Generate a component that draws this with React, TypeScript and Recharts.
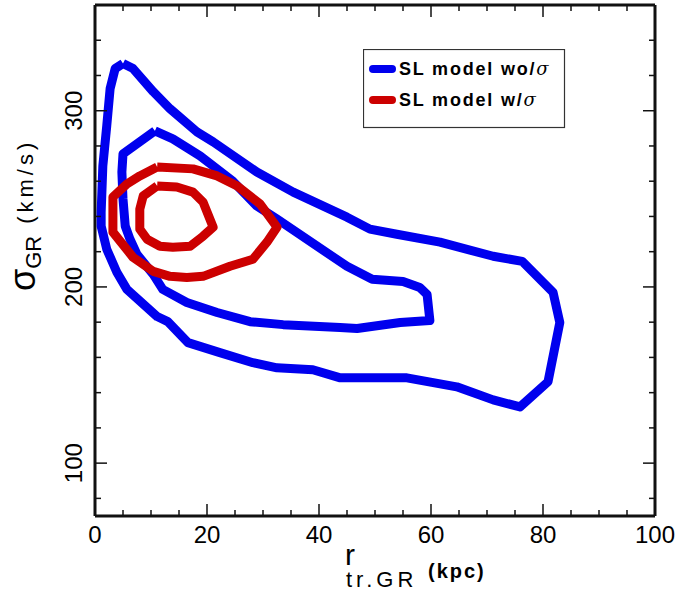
import React from 'react';
import { ScatterChart, Scatter, XAxis, YAxis, Legend } from 'recharts';

// Contour: SL model wo/sigma (outer, 95%)
const WO_OUTER_R = [5.0, 6.8, 10.4, 13.4, 18.2, 21.1, 28.9, 35.4, 45.0, 49.1, 53.9, 61.6, 71.1, 76.3, 81.8, 83.0, 80.9, 75.9, 71.1, 64.6, 55.7, 43.8, 38.9, 32.5, 28.2, 22.3, 16.6, 13.0, 11.1, 5.7, 3.9, 2.1, 1.1, 1.1, 1.4, 2.1, 2.7, 3.6, 5.0];
const WO_OUTER_S = [326.8, 323.9, 310.8, 301.1, 288.0, 282.3, 265.2, 253.8, 239.6, 232.8, 229.9, 225.4, 217.4, 214.5, 196.9, 179.8, 146.2, 131.9, 135.9, 143.3, 148.4, 148.4, 153.0, 154.1, 157.0, 162.7, 168.4, 180.3, 183.2, 198.6, 208.3, 221.4, 234.5, 242.5, 268.7, 291.5, 312.5, 323.9, 326.8];
// Contour: SL model wo/sigma (inner, 68%)
const WO_INNER_R = [10.7, 13.9, 18.75, 24.6, 28.9, 32.5, 45.0, 49.5, 55.0, 58.0, 59.3, 59.8, 54.5, 46.8, 43.75, 33.6, 27.7, 21.8, 16.4, 12.1, 10.4, 7.5, 6.25, 5.4, 5.0, 4.8, 5.0, 10.7];
const WO_INNER_S = [288.6, 284.0, 274.4, 260.1, 245.9, 238.5, 211.7, 204.3, 203.1, 199.7, 195.7, 180.9, 179.8, 176.4, 177.0, 178.6, 180.3, 185.5, 191.2, 198.6, 207.1, 218.5, 227.1, 234.5, 249.9, 265.2, 275.5, 288.6];
// Contour: SL model w/sigma (outer)
const W_OUTER_R = [11.1, 17.5, 21.8, 25.4, 29.5, 32.5, 30.7, 28.2, 24.1, 19.3, 16.4, 13.4, 10.4, 6.8, 3.2, 3.2, 5.7, 8.0, 11.1];
const W_OUTER_S = [268.1, 267.0, 263.0, 257.3, 247.0, 233.9, 225.4, 215.7, 211.7, 206.0, 205.4, 206.0, 208.8, 216.8, 231.1, 251.0, 258.4, 263.0, 268.1];
// Contour: SL model w/sigma (inner)
const W_INNER_R = [11.1, 14.6, 17.5, 19.3, 21.1, 19.3, 17.0, 13.9, 11.6, 9.3, 8.0, 8.0, 8.6, 11.1];
const W_INNER_S = [257.3, 256.7, 253.8, 248.1, 233.9, 228.8, 223.1, 222.5, 223.1, 227.1, 232.8, 244.2, 251.6, 257.3];

const X_TICKS = [0, 5, 10, 15, 20, 25, 30, 35, 40, 45, 50, 55, 60, 65, 70, 75, 80, 85, 90, 95, 100];
const X_MAJOR = [0, 20, 40, 60, 80, 100];
const Y_TICKS = [80, 100, 120, 140, 160, 180, 200, 220, 240, 260, 280, 300, 320, 340];
const Y_MAJOR = [100, 200, 300];
const LEGEND_LABELS = ['SL model wo/', 'SL model w/'];

const BLUE = '#0000ee';
const RED = '#cc0000';
const LEGEND_COLORS = [BLUE, RED];
const AXIS = '#111';
const FONT = '"Liberation Sans", Arial, Helvetica, sans-serif';

const zip = (xs: number[], ys: number[]) => xs.map((x, i) => ({ x, y: ys[i] }));
const woOuter = zip(WO_OUTER_R, WO_OUTER_S);
const woInner = zip(WO_INNER_R, WO_INNER_S);
const wOuter = zip(W_OUTER_R, W_OUTER_S);
const wInner = zip(W_INNER_R, W_INNER_S);

const NoShape = () => <g />;

const renderBottomTick = (p: any) => {
  const major = X_MAJOR.includes(p.payload.value);
  return (
    <g transform={`translate(${p.x}, ${p.y})`}>
      <line x1={0} y1={0} x2={0} y2={major ? -12 : -6} stroke={AXIS} strokeWidth={1.5} />
      {major && (
        <text x={0} y={27} textAnchor="middle" fontSize={24} fontFamily={FONT} fill="#000">
          {String(p.payload.value)}
        </text>
      )}
    </g>
  );
};
const renderTopTick = (p: any) => {
  const major = X_MAJOR.includes(p.payload.value);
  return (
    <g transform={`translate(${p.x}, ${p.y})`}>
      <line x1={0} y1={0} x2={0} y2={major ? 12 : 6} stroke={AXIS} strokeWidth={1.5} />
    </g>
  );
};
const renderLeftTick = (p: any) => {
  const major = Y_MAJOR.includes(p.payload.value);
  return (
    <g transform={`translate(${p.x}, ${p.y})`}>
      <line x1={0} y1={0} x2={major ? 12 : 6} y2={0} stroke={AXIS} strokeWidth={1.5} />
      {major && (
        <g transform="rotate(-90)">
          <text x={0} y={-13} textAnchor="middle" fontSize={24} fontFamily={FONT} fill="#000">
            {String(p.payload.value)}
          </text>
        </g>
      )}
    </g>
  );
};
const renderRightTick = (p: any) => {
  const major = Y_MAJOR.includes(p.payload.value);
  return (
    <g transform={`translate(${p.x}, ${p.y})`}>
      <line x1={0} y1={0} x2={major ? -12 : -6} y2={0} stroke={AXIS} strokeWidth={1.5} />
    </g>
  );
};

const YTitle = () => (
  <text transform="rotate(-90, 35, 291)" x={35} y={291} fontFamily={FONT} fill="#000">
    <tspan fontSize={36}>σ</tspan>
    <tspan fontSize={22} dy={6}>GR</tspan>
    <tspan fontSize={22} dy={-8} dx={12} letterSpacing={4}>(km/s)</tspan>
  </text>
);
const XTitle = () => (
  <g fontFamily={FONT} fill="#000">
    <text x={345} y={565} fontSize={30}>r</text>
    <text x={346} y={587} fontSize={22} letterSpacing={4}>tr.GR</text>
    <text x={428} y={578} fontSize={20} fontWeight="bold" letterSpacing={2}>(kpc)</text>
  </g>
);

const LegendBox = () => (
  <svg width={203} height={80} style={{ display: 'block' }}>
    <rect x={0.5} y={0.5} width={201} height={78} fill="#fff" stroke="#333" strokeWidth={1.2} />
    {LEGEND_LABELS.map((label, i) => (
      <g key={i}>
        <line x1={10} x2={29} y1={20 + i * 31} y2={20 + i * 31} stroke={LEGEND_COLORS[i]} strokeWidth={8} strokeLinecap="round" />
        <text x={36} y={26 + i * 31} fontSize={18} fontWeight="bold" fontFamily={FONT} letterSpacing={1.8} fill="#000">
          {label}
          <tspan fontStyle="italic" fontWeight="normal" fontFamily='"DejaVu Serif", serif'>σ</tspan>
        </text>
      </g>
    ))}
  </svg>
);

export default function App() {
  return (
    <div style={{ position: 'absolute', left: 0, top: 0, width: 689, height: 590, background: '#fff' }}>
      <ScatterChart width={689} height={590} margin={{ top: 4, right: 33, left: 0, bottom: 0 }}>
        <XAxis
          xAxisId="b"
          type="number"
          dataKey="x"
          orientation="bottom"
          domain={[0, 100]}
          ticks={X_TICKS}
          interval={0}
          height={74}
          tickSize={0}
          tickMargin={0}
          tickLine={false}
          axisLine={{ stroke: AXIS, strokeWidth: 3 }}
          tick={renderBottomTick}
          allowDataOverflow
          label={<XTitle />}
        />
        <XAxis
          xAxisId="t"
          type="number"
          dataKey="x"
          orientation="top"
          domain={[0, 100]}
          ticks={X_TICKS}
          interval={0}
          height={1}
          tickSize={0}
          tickMargin={0}
          tickLine={false}
          axisLine={{ stroke: AXIS, strokeWidth: 3 }}
          tick={renderTopTick}
          allowDataOverflow
        />
        <YAxis
          yAxisId="l"
          type="number"
          dataKey="y"
          orientation="left"
          domain={[70, 360]}
          ticks={Y_TICKS}
          interval={0}
          width={95}
          tickSize={0}
          tickMargin={0}
          tickLine={false}
          axisLine={{ stroke: AXIS, strokeWidth: 3 }}
          tick={renderLeftTick}
          allowDataOverflow
          label={<YTitle />}
        />
        <YAxis
          yAxisId="r"
          type="number"
          dataKey="y"
          orientation="right"
          domain={[70, 360]}
          ticks={Y_TICKS}
          interval={0}
          width={1}
          tickSize={0}
          tickMargin={0}
          tickLine={false}
          axisLine={{ stroke: AXIS, strokeWidth: 3 }}
          tick={renderRightTick}
          allowDataOverflow
        />
        <Scatter xAxisId="t" yAxisId="r" data={woOuter} shape={NoShape} legendType="none" isAnimationActive={false} />
        <Scatter xAxisId="b" yAxisId="l" data={woOuter} fill={BLUE} line={{ stroke: BLUE, strokeWidth: 9, strokeLinejoin: 'round' }} lineType="joint" shape={NoShape} legendType="none" isAnimationActive={false} />
        <Scatter xAxisId="b" yAxisId="l" data={woInner} fill={BLUE} line={{ stroke: BLUE, strokeWidth: 9, strokeLinejoin: 'round' }} lineType="joint" shape={NoShape} legendType="none" isAnimationActive={false} />
        <Scatter xAxisId="b" yAxisId="l" data={wOuter} fill={RED} line={{ stroke: RED, strokeWidth: 9, strokeLinejoin: 'round' }} lineType="joint" shape={NoShape} legendType="none" isAnimationActive={false} />
        <Scatter xAxisId="b" yAxisId="l" data={wInner} fill={RED} line={{ stroke: RED, strokeWidth: 9, strokeLinejoin: 'round' }} lineType="joint" shape={NoShape} legendType="none" isAnimationActive={false} />
        <Legend
          layout="vertical"
          align="center"
          verticalAlign="middle"
          content={<LegendBox />}
          wrapperStyle={{ position: 'absolute', left: 363, top: 49, width: 203, height: 80 }}
        />
      </ScatterChart>
    </div>
  );
}
